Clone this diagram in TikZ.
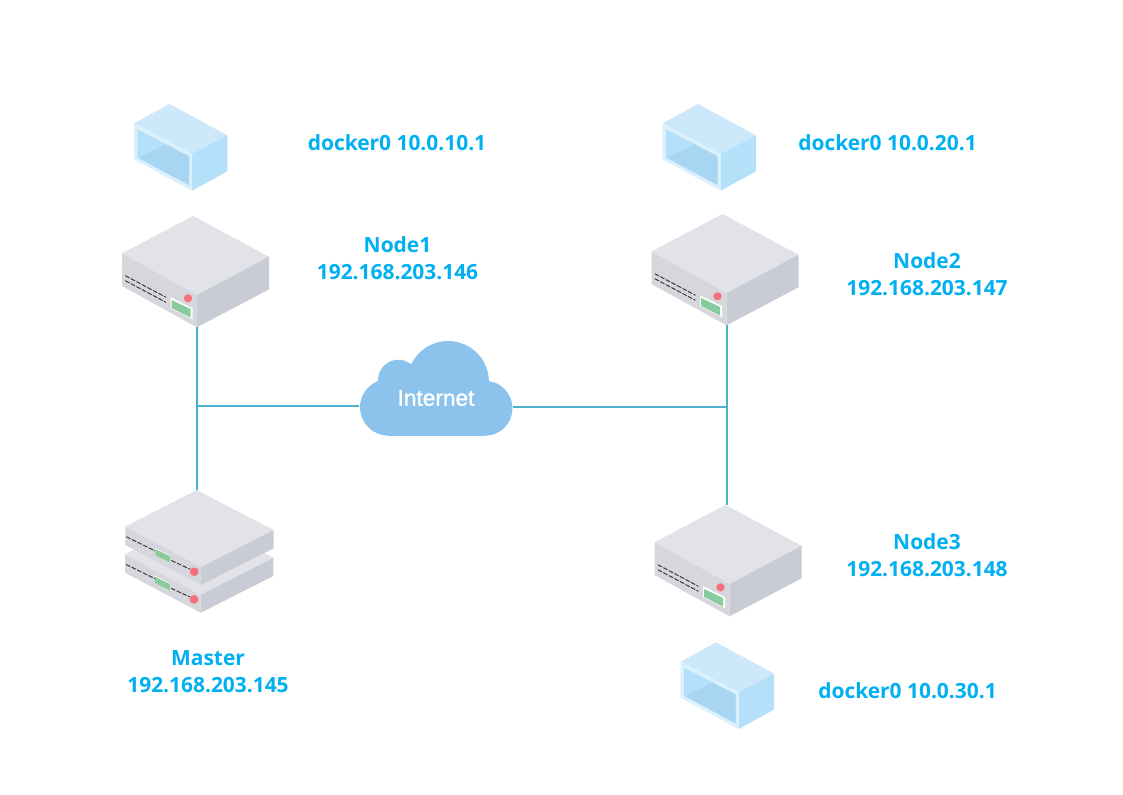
\documentclass[tikz,border=0pt]{standalone}
\usepackage{fontspec}
\setmainfont{Open Sans}
\newfontfamily\cloudfont[FakeBold=1.2]{Liberation Sans}
\usepackage{xcolor}
\definecolor{labelblue}{RGB}{0, 176, 240}
\definecolor{linkteal}{RGB}{75, 177, 204}
\definecolor{cloudblue}{RGB}{139, 195, 236}
\definecolor{srvtop}{RGB}{226, 227, 232}
\definecolor{srvfront}{RGB}{214, 215, 221}
\definecolor{srvside}{RGB}{201, 204, 212}
\definecolor{srvgreen}{RGB}{137, 203, 156}
\definecolor{srvred}{RGB}{246, 112, 122}
\definecolor{boxtop}{RGB}{205, 232, 251}
\definecolor{boxside}{RGB}{180, 224, 250}
\definecolor{boxframe}{RGB}{218, 240, 253}
\definecolor{boxfloor}{RGB}{168, 214, 242}
\tikzset{
    iplabel/.style={text=labelblue, font=\fontsize{15.7}{20.2}\selectfont\bfseries, align=center, inner sep=0pt},
    link/.style={draw=linkteal, line width=1.5pt},
    slot/.style={draw=black!80, line width=0.7pt, dash pattern=on 3.5pt off 1.2pt},
    server/.pic={
        \fill[srvtop] (0,0) -- (76,40.7) -- (4,79) -- (-71,37.3) -- cycle;
        \fill[srvfront] (-71,37.3) -- (4,79) -- (4,111.3) -- (-71,70) -- cycle;
        \fill[srvside] (4,79) -- (76,40.7) -- (76,73.3) -- (4,111.3) -- cycle;
        \draw[slot] (-67.7,59.7) -- (-27,81.3);
        \draw[slot] (-67.7,64.7) -- (-27,86.3);
        \fill[white] (-22.3,81.3) -- (-0.3,92.3) -- (-0.3,103.3) -- (-22.3,92.3) -- cycle;
        \fill[srvgreen] (-21.3,84) -- (-2.3,93) -- (-2.3,101.7) -- (-21.3,92) -- cycle;
        \fill[srvred] (-5,82.3) circle (3.1pt);
        \coordinate (-top) at (1,0);
        \coordinate (-base) at (4,111);
    },
    blade/.pic={
        \fill[srvtop] (0,0) -- (77,40) -- (4.4,77.3) -- (-71.3,36.7) -- cycle;
        \fill[srvfront] (-71.3,36.7) -- (4.4,77.3) -- (4.4,95) -- (-71.3,55) -- cycle;
        \fill[srvside] (4.4,77.3) -- (77,40) -- (77,58.3) -- (4.4,95) -- cycle;
        \draw[slot] (-70.3,46.7) -- (-41.3,61);
        \draw[slot] (-25.3,70.5) -- (-6.3,79.3);
        \fill[white] (-41.3,58) -- (-26,66) -- (-26,73) -- (-41.3,65.5) -- cycle;
        \fill[srvgreen] (-41.3,59) -- (-26.3,66.5) -- (-26.3,72.7) -- (-41.3,65.5) -- cycle;
        \fill[srvred] (-2.3,81.7) circle (3.3pt);
        \coordinate (-top) at (0.4,0);
    },
    crate/.pic={
        \fill[boxtop] (0,0) -- (58,31.3) -- (22.7,50) -- (-35.3,19.3) -- cycle;
        \fill[boxside] (22.7,50) -- (58,31.3) -- (58,67.3) -- (22.7,86.7) -- cycle;
        \fill[boxframe] (-35.3,19.3) -- (22.7,50) -- (22.7,86.7) -- (-35.3,55.3) -- cycle;
        \fill[boxside] (-32,25.3) -- (19.7,52) -- (19.7,81) -- (-32,53) -- cycle;
        \fill[boxfloor] (-31,54) -- (-3.7,40.3) -- (19.7,52.7) -- (19.7,81) -- cycle;
    },
}
\begin{document}
\begin{tikzpicture}[x=0.75pt, y=-0.75pt]
    \useasboundingbox (0,0) rectangle (1123,794);
    \fill[white] (0,0) rectangle (1123,794);

    % cloud
    \fill[cloudblue] (388.3,407.3) circle (21.2pt);
    \fill[cloudblue] (485,408.3) circle (20.6pt);
    \fill[cloudblue] (448.1,381.8) circle (30.6pt);
    \fill[cloudblue] (398.3,380) circle (15.2pt);
    \fill[cloudblue] (388,395) rectangle (485,435.7);
    \node[text=white, font=\cloudfont\fontsize{17}{20}\selectfont, minimum width=114.75pt, inner sep=0pt] (net) at (436,398) {Internet};

    % machines
    \pic (n1) at (193,216) {server};
    \pic (n2) at (722.5,214) {server};
    \pic (n3) at (725.5,505) {server};
    \pic at (196.3,517.7) {blade};
    \pic (m) at (196.6,490) {blade};

    % links
    \draw[link] (n1-base) -- (m-top);
    \draw[link] (n2-base) -- (n3-top);
    \draw[link] ([yshift=-6.2pt]net.west) -- ([yshift=-6.2pt]net.west -| n1-base);
    \draw[link] ([yshift=-6.9pt]net.east) -- ([yshift=-6.9pt]net.east -| n2-base);

    % bridges
    \pic at (169.3,104) {crate};
    \pic at (698,104) {crate};
    \pic at (716,642.3) {crate};

    \node[iplabel] (d1) at (397,142.5) {docker0 10.0.10.1};
    \node[iplabel] (d2) at (887.5,142.5) {docker0 10.0.20.1};
    \node[iplabel] (d3) at (907.5,691) {docker0 10.0.30.1};
    \node[iplabel] (l1) at (397.5,258.5) {Node1\\192.168.203.146};
    \node[iplabel] (l2) at (927,274) {Node2\\192.168.203.147};
    \node[iplabel] (l3) at (927,555) {Node3\\192.168.203.148};
    \node[iplabel] (lm) at (208,671.5) {Master\\192.168.203.145};
\end{tikzpicture}
\end{document}
